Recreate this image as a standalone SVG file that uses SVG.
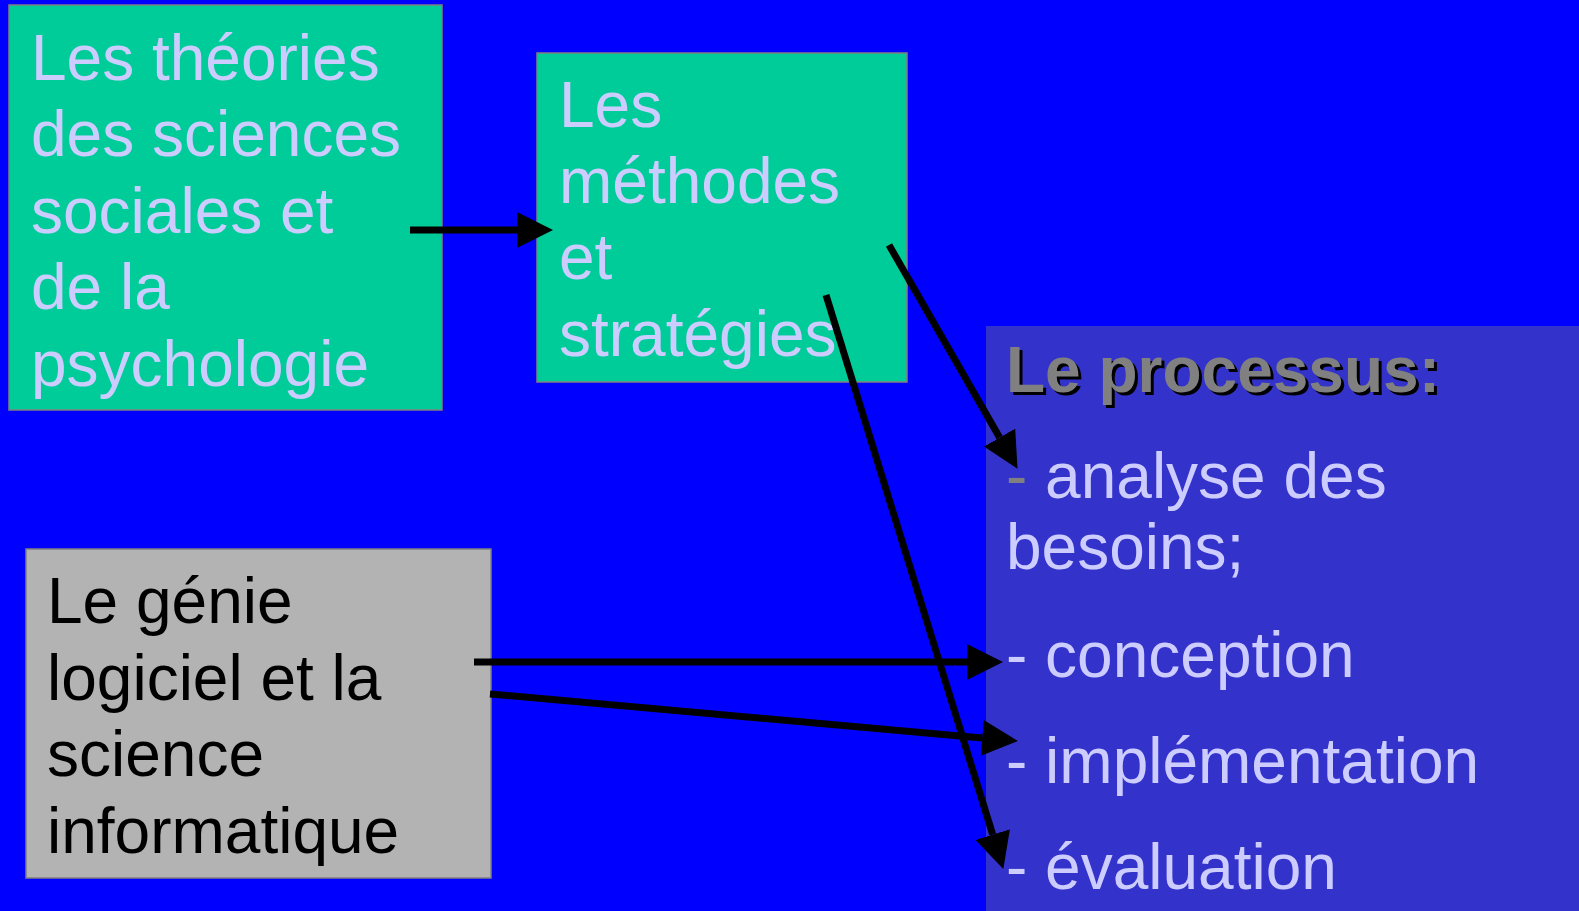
<svg xmlns="http://www.w3.org/2000/svg" width="1579" height="911" viewBox="0 0 1579 911">
<style>
.t{font-family:"Liberation Sans",Arial,sans-serif;font-size:64px}
.lav{fill:#CCCCFF}
.blk{fill:#000000}
.ttl{font-family:"Liberation Sans",Arial,sans-serif;font-size:64px;font-weight:bold}
.box{stroke:#808080;stroke-width:1.5}
.con{stroke:#000000;stroke-width:7;fill:none;marker-end:url(#ah)}
</style>
<defs>
<marker id="ah" markerUnits="userSpaceOnUse" viewBox="0 0 36 36" refX="0" refY="18" markerWidth="36" markerHeight="36" orient="auto">
<path d="M0,0 L36,18 L0,36 z" fill="#000000"/>
</marker>
</defs>
<rect x="0" y="0" width="1579" height="911" fill="#0000FF"/>
<g id="node-theories">
<rect class="box" x="9" y="5" width="433" height="405" fill="#00CC99"/>
<text class="t lav"><tspan x="31" y="80">Les théories</tspan><tspan x="31" y="156">des sciences</tspan><tspan x="31" y="233">sociales et</tspan><tspan x="31" y="309">de la</tspan><tspan x="31" y="386">psychologie</tspan></text>
</g>
<g id="node-methodes">
<rect class="box" x="537" y="53" width="370" height="329" fill="#00CC99"/>
<text class="t lav"><tspan x="559" y="127">Les</tspan><tspan x="559" y="203">méthodes</tspan><tspan x="559" y="279">et</tspan><tspan x="559" y="356">stratégies</tspan></text>
</g>
<g id="node-genie">
<rect class="box" x="26" y="549" width="465" height="329" fill="#B3B3B3"/>
<text class="t blk"><tspan x="47" y="623">Le génie</tspan><tspan x="47" y="700">logiciel et la</tspan><tspan x="47" y="776">science</tspan><tspan x="47" y="853">informatique</tspan></text>
</g>
<g id="node-processus">
<rect x="986" y="326" width="593" height="585" fill="#3333CC"/>
<text class="ttl" x="1009" y="395" fill="#000000">Le processus:</text>
<text class="ttl" x="1006" y="392" fill="#808080">Le processus:</text>
<text class="t lav" x="1006" y="498"><tspan fill="#808080">-</tspan> analyse des</text>
<text class="t lav" x="1006" y="569">besoins;</text>
<text class="t lav" x="1006" y="677">- conception</text>
<text class="t lav" x="1006" y="783">- implémentation</text>
<text class="t lav" x="1006" y="889">- évaluation</text>
</g>
<g id="connectors">
<line class="con" x1="410" y1="230" x2="517" y2="230"/>
<line class="con" x1="889" y1="245" x2="999.6" y2="437.6"/>
<line class="con" x1="826" y1="295" x2="992.7" y2="834.6"/>
<line class="con" x1="474" y1="662" x2="967" y2="662"/>
<line class="con" x1="490" y1="694" x2="982.1" y2="737.9"/>
</g>
</svg>
